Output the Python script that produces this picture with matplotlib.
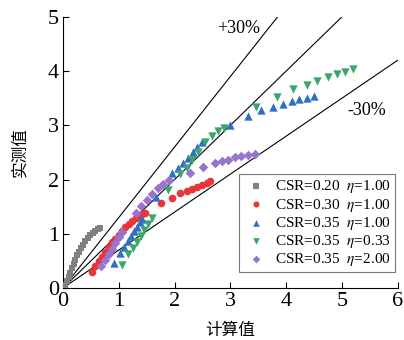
import numpy as np
import matplotlib
matplotlib.use("Agg")
import matplotlib.pyplot as plt

plt.rcParams['font.family'] = ['Liberation Serif', 'DejaVu Serif']
plt.rcParams['mathtext.fontset'] = 'stix'

# === Data ===
gray_x = [0.04, 0.07, 0.10, 0.13, 0.16, 0.19, 0.22, 0.25, 0.28, 0.32, 0.36, 0.40, 0.44, 0.48, 0.53, 0.58, 0.63, 0.66]
gray_y = [0.06, 0.13, 0.20, 0.28, 0.36, 0.44, 0.52, 0.60, 0.67, 0.74, 0.80, 0.86, 0.92, 0.97, 1.02, 1.06, 1.08, 1.10]

red_x = [0.52, 0.58, 0.64, 0.70, 0.76, 0.82, 0.88, 0.94, 1.00, 1.06, 1.12, 1.18, 1.24, 1.30, 1.36, 1.42, 1.47,
         1.76, 1.95, 2.10, 2.22, 2.31, 2.40, 2.49, 2.58, 2.63]
red_y = [0.30, 0.40, 0.49, 0.58, 0.67, 0.76, 0.84, 0.91, 0.98, 1.05, 1.12, 1.18, 1.24, 1.29, 1.33, 1.36, 1.38,
         1.57, 1.66, 1.75, 1.79, 1.83, 1.86, 1.90, 1.94, 1.97]

blue_x = [0.92, 1.02, 1.10, 1.16, 1.22, 1.28, 1.33, 1.38, 1.42, 1.66, 1.95, 2.07, 2.16, 2.25, 2.33, 2.41, 2.49,
          2.99, 3.31, 3.55, 3.76, 3.95, 4.10, 4.24, 4.37, 4.50]
blue_y = [0.46, 0.64, 0.76, 0.86, 0.96, 1.05, 1.13, 1.21, 1.27, 1.67, 2.12, 2.21, 2.30, 2.40, 2.50, 2.60, 2.69,
          3.00, 3.17, 3.28, 3.34, 3.39, 3.45, 3.48, 3.51, 3.54]

green_x = [1.05, 1.17, 1.25, 1.32, 1.39, 1.46, 1.53, 1.59, 1.88, 2.10, 2.22, 2.32, 2.42, 2.54, 2.67, 2.78, 2.88,
           3.46, 3.83, 4.12, 4.37, 4.55, 4.75, 4.91, 5.05, 5.20]
green_y = [0.42, 0.62, 0.74, 0.85, 0.96, 1.07, 1.18, 1.29, 1.81, 2.10, 2.22, 2.36, 2.50, 2.70, 2.80, 2.89, 2.96,
           3.34, 3.53, 3.67, 3.75, 3.82, 3.89, 3.94, 3.99, 4.04]

purple_x = [0.68, 0.75, 0.82, 0.88, 0.94, 1.00, 1.06, 1.30, 1.40, 1.50, 1.60, 1.70, 1.80, 1.90,
            2.28, 2.51, 2.72, 2.85, 2.96, 3.08, 3.20, 3.31, 3.44]
purple_y = [0.40, 0.51, 0.62, 0.72, 0.83, 0.94, 1.03, 1.38, 1.51, 1.63, 1.74, 1.84, 1.92, 2.00,
            2.13, 2.24, 2.30, 2.35, 2.37, 2.41, 2.43, 2.45, 2.47]

labels = ['CSR=0.20  $\\eta$=1.00', 'CSR=0.30  $\\eta$=1.00', 'CSR=0.35  $\\eta$=1.00',
          'CSR=0.35  $\\eta$=0.33', 'CSR=0.35  $\\eta$=2.00']
ratios = [1.3, 1.0, 0.7]

fig = plt.figure(figsize=(4.04, 3.4), dpi=100)
ax = fig.add_axes([0.156, 0.153, 0.828, 0.797])

# reference lines (+30%, 1:1, -30%)
xl = np.array([0, 6])
for r in ratios:
    ax.plot(xl, r * xl, color='black', linewidth=0.8, zorder=1)

ax.scatter(gray_x, gray_y, marker='s', s=24, color='#808080', label=labels[0], zorder=3, linewidths=0)
ax.scatter(red_x, red_y, marker='o', s=30, color='#e8363a', label=labels[1], zorder=3, linewidths=0)
ax.scatter(blue_x, blue_y, marker='^', s=36, color='#2f6fc4', label=labels[2], zorder=3, linewidths=0)
ax.scatter(green_x, green_y, marker='v', s=36, color='#3aa86a', label=labels[3], zorder=3, linewidths=0)
ax.scatter(purple_x, purple_y, marker='D', s=24, color='#9a74cc', label=labels[4], zorder=3, linewidths=0)

ax.set_xlim(0, 6)
ax.set_ylim(0, 5)
ax.set_xticks(range(0, 7))
ax.set_yticks(range(0, 6))
ax.spines['top'].set_visible(False)
ax.spines['right'].set_visible(False)
ax.tick_params(direction='in', length=4, width=0.8, labelsize=16, pad=3)

cjk = ['Noto Sans CJK SC', 'DejaVu Sans']
ax.set_xlabel('计算值', family=cjk, fontsize=12, labelpad=8)
ax.set_ylabel('实测值', family=cjk, fontsize=12, labelpad=14)

ax.text(2.76, 4.7, '+30%', fontsize=13)
ax.text(5.1, 3.19, '-30%', fontsize=13)

leg = ax.legend(loc='lower right', bbox_to_anchor=(0.992, 0.059), borderaxespad=0, fontsize=11,
                frameon=True, fancybox=False, edgecolor='#555555', handletextpad=0.4, borderpad=0.25,
                labelspacing=0.08, handlelength=1.7, markerscale=0.8)
leg.get_frame().set_linewidth(0.8)

plt.savefig('out.png', dpi=100)
